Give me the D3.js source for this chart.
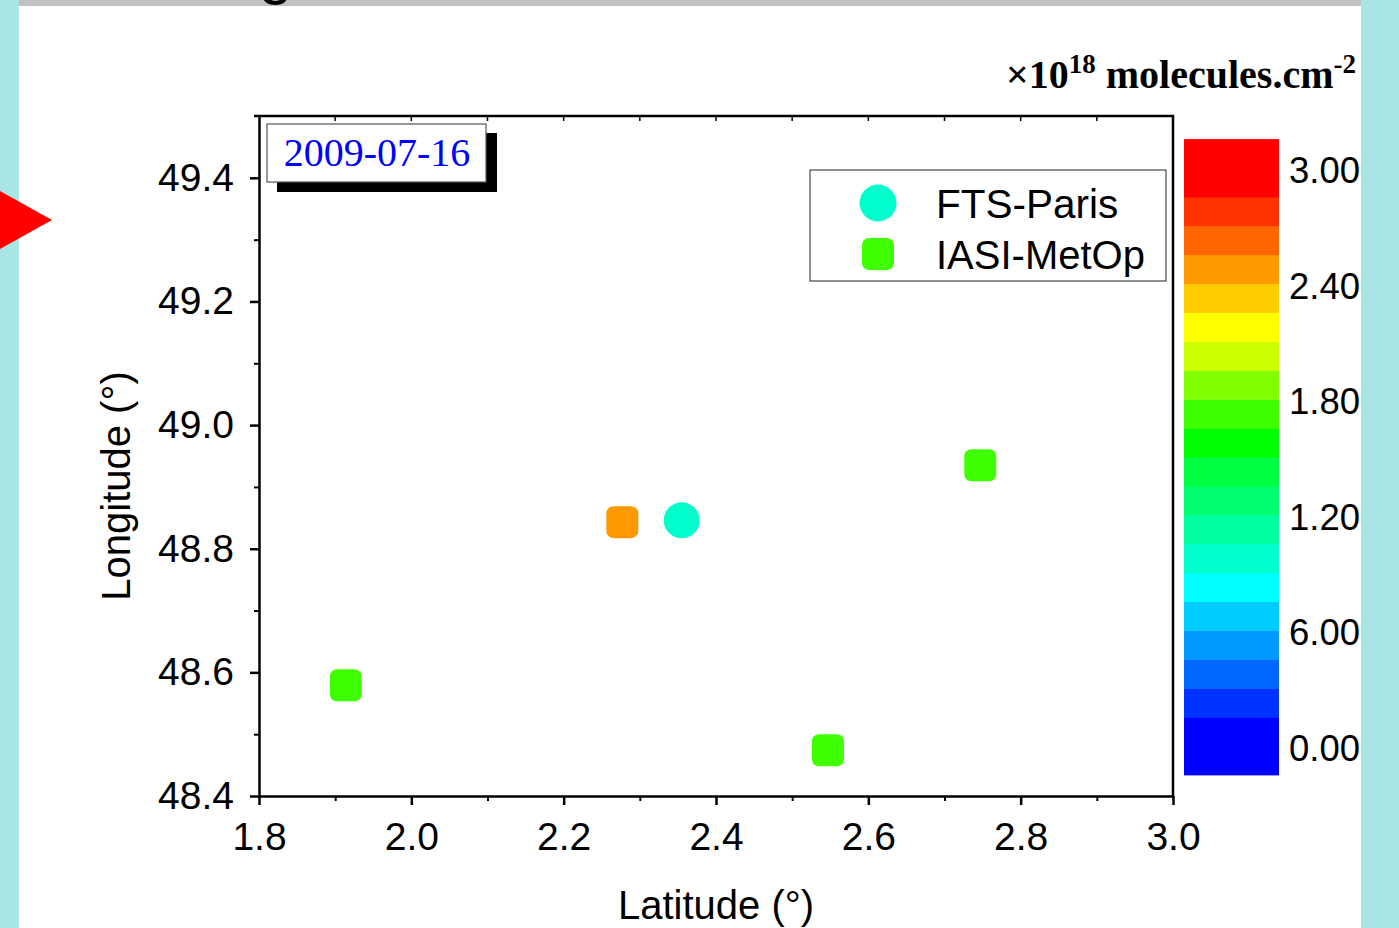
<!DOCTYPE html>
<html>
<head>
<meta charset="utf-8">
<script src="https://cdn.jsdelivr.net/npm/d3@7"></script>
<style>
  html, body { margin: 0; padding: 0; background: #fff; }
  svg { display: block; }
  text { font-family: "Liberation Sans", Arial, sans-serif; }
  text.serif { font-family: "Liberation Serif", "Times New Roman", serif; }
</style>
</head>
<body>
<div id="chart"></div>
<script>
// FTS-Paris station
const ftsLat = [2.355];
const ftsLon = [48.846];
const ftsValue = [0.98];

// IASI-MetOp pixels
const iasiLat = [2.277, 1.914, 2.547, 2.747];
const iasiLon = [48.843, 48.579, 48.474, 48.935];
const iasiValue = [2.47, 1.72, 1.70, 1.74];

const xTicks = [1.8, 2.0, 2.2, 2.4, 2.6, 2.8, 3.0];
const yTicks = [48.4, 48.6, 48.8, 49.0, 49.2, 49.4];

// colour bar levels (0.15 steps) and colours, bottom to top
const levelThresholds = d3.range(1, 20).map(i => +(i * 0.15).toFixed(2));
const levelColors = [
  "#0000FF", "#0033FF", "#0066FF", "#0099FF", "#00CCFF",
  "#00FFFF", "#00FFCC", "#00FFA0", "#00FF70", "#00FF40",
  "#00FF00", "#40FF00", "#80FF00", "#CCFF00", "#FFFF00",
  "#FFCC00", "#FF9900", "#FF6600", "#FF3300", "#FF0000"
];
const barTickValues = [0, 0.6, 1.2, 1.8, 2.4, 3.0];
const barTickLabels = ["0.00", "6.00", "1.20", "1.80", "2.40", "3.00"];

const W = 1399, H = 928;
const svg = d3.select("#chart").append("svg").attr("width", W).attr("height", H);

// page background strips
svg.append("rect").attr("x", 0).attr("y", 0).attr("width", 19).attr("height", H).attr("fill", "#A9E5E5");
svg.append("rect").attr("x", 1361).attr("y", 0).attr("width", W - 1361).attr("height", H).attr("fill", "#A9E5E5");
svg.append("rect").attr("x", 19).attr("y", 0).attr("width", 1342).attr("height", 6).attr("fill", "#C0C0C0");
// descender of a cut-off title above
svg.append("text").attr("x", 259).attr("y", -7).attr("font-size", 60).attr("fill", "#000").text("g");

const plot = { left: 259, right: 1173, top: 116, bottom: 796 };
const x = d3.scaleLinear().domain([1.8, 3.0]).range([plot.left, plot.right]);
const y = d3.scaleLinear().domain([48.4, 49.5]).range([plot.bottom, plot.top]);
const color = d3.scaleThreshold().domain(levelThresholds).range(levelColors);

// frame
svg.append("path")
  .attr("d", `M${plot.left - 5},${plot.top}H${plot.right}V${plot.bottom}`)
  .attr("fill", "none").attr("stroke", "#000").attr("stroke-width", 2.5);

// top inward ticks
svg.append("g").selectAll("line")
  .data(d3.range(1.9, 3.0, 0.1))
  .join("line")
  .attr("x1", d => x(d)).attr("x2", d => x(d))
  .attr("y1", plot.top).attr("y2", plot.top + 5)
  .attr("stroke", "#000").attr("stroke-width", 1.5);

// bottom axis
const gx = svg.append("g").attr("transform", `translate(0,${plot.bottom})`)
  .call(d3.axisBottom(x).tickValues(xTicks).tickFormat(d3.format(".1f")).tickSizeInner(9).tickSizeOuter(0).tickPadding(17));
gx.select(".domain").attr("stroke-width", 2.5);
gx.selectAll(".tick line").attr("stroke-width", 2.5);
gx.selectAll(".tick text").attr("font-size", 39).attr("fill", "#000");
svg.append("g").attr("transform", `translate(0,${plot.bottom})`)
  .call(d3.axisBottom(x).tickValues(d3.range(1.9, 3.0, 0.2)).tickSize(5).tickFormat(""))
  .call(g => g.select(".domain").remove())
  .selectAll(".tick line").attr("stroke-width", 2);

// left axis
const gy = svg.append("g").attr("transform", `translate(${plot.left},0)`)
  .call(d3.axisLeft(y).tickValues(yTicks).tickFormat(d3.format(".1f")).tickSizeInner(9).tickSizeOuter(0).tickPadding(16));
gy.select(".domain").attr("stroke-width", 2.5);
gy.selectAll(".tick line").attr("stroke-width", 2.5);
gy.selectAll(".tick text").attr("font-size", 39).attr("fill", "#000");
svg.append("g").attr("transform", `translate(${plot.left},0)`)
  .call(d3.axisLeft(y).tickValues(d3.range(48.5, 49.5, 0.2)).tickSize(5).tickFormat(""))
  .call(g => g.select(".domain").remove())
  .selectAll(".tick line").attr("stroke-width", 2);

// axis titles
svg.append("text").attr("x", (plot.left + plot.right) / 2).attr("y", 919)
  .attr("text-anchor", "middle").attr("font-size", 40).text("Latitude (°)");
svg.append("text").attr("transform", `translate(130,${(plot.top + plot.bottom) / 2 + 30}) rotate(-90)`)
  .attr("text-anchor", "middle").attr("font-size", 40).text("Longitude (°)");

// data points
const sq = 32;
svg.append("g").selectAll("rect")
  .data(iasiLat.map((d, i) => ({ lat: d, lon: iasiLon[i], v: iasiValue[i] })))
  .join("rect")
  .attr("x", d => x(d.lat) - sq / 2).attr("y", d => y(d.lon) - sq / 2)
  .attr("width", sq).attr("height", sq).attr("rx", 7)
  .attr("fill", d => color(d.v));
svg.append("g").selectAll("circle")
  .data(ftsLat.map((d, i) => ({ lat: d, lon: ftsLon[i], v: ftsValue[i] })))
  .join("circle")
  .attr("cx", d => x(d.lat)).attr("cy", d => y(d.lon)).attr("r", 18)
  .attr("fill", d => color(d.v));

// date label with shadow
svg.append("rect").attr("x", 277).attr("y", 133).attr("width", 220).attr("height", 59).attr("fill", "#000");
svg.append("rect").attr("x", 267).attr("y", 124).attr("width", 219).attr("height", 58)
  .attr("fill", "#fff").attr("stroke", "#555").attr("stroke-width", 1.2);
svg.append("text").attr("class", "serif").attr("x", 377).attr("y", 166).attr("text-anchor", "middle")
  .attr("font-size", 40).attr("fill", "#0000FF").text("2009-07-16");

// legend
svg.append("rect").attr("x", 810).attr("y", 170).attr("width", 356).attr("height", 111)
  .attr("fill", "#fff").attr("stroke", "#444").attr("stroke-width", 1.2);
svg.append("circle").attr("cx", 878).attr("cy", 203).attr("r", 18.5).attr("fill", color(ftsValue[0]));
svg.append("rect").attr("x", 862).attr("y", 238).attr("width", sq).attr("height", sq).attr("rx", 7)
  .attr("fill", color(iasiValue[1]));
svg.append("text").attr("x", 936).attr("y", 218).attr("font-size", 40.5).text("FTS-Paris");
svg.append("text").attr("x", 936).attr("y", 269).attr("font-size", 40).text("IASI-MetOp");

// colour bar
const bar = { x: 1184, w: 95 };
const by = d3.scaleLinear().domain([0, 3.0]).range([746, 168]);
const bandEdges = [-0.15].concat(levelThresholds, [3.15]);
svg.append("g").selectAll("rect")
  .data(levelColors.map((c, i) => ({ c, lo: bandEdges[i], hi: bandEdges[i + 1] })))
  .join("rect")
  .attr("x", bar.x).attr("width", bar.w)
  .attr("y", d => by(d.hi)).attr("height", d => by(d.lo) - by(d.hi) + 0.5)
  .attr("fill", d => d.c);
svg.append("g").selectAll("text")
  .data(barTickValues)
  .join("text")
  .attr("x", 1289).attr("y", d => by(d) + 15)
  .attr("font-size", 36.5).text((d, i) => barTickLabels[i]);

// colour bar units
const unit = svg.append("text").attr("class", "serif").attr("x", 1356).attr("y", 88).attr("text-anchor", "end")
  .attr("font-weight", "bold").attr("font-size", 40);
unit.append("tspan").text("×10");
unit.append("tspan").attr("font-size", 27).attr("dy", -15).text("18");
unit.append("tspan").attr("dy", 15).text(" molecules.cm");
unit.append("tspan").attr("font-size", 27).attr("dy", -15).text("-2");

// red marker on the left edge
svg.append("path").attr("d", "M0,191L52,220L0,249Z").attr("fill", "#FF0000");
</script>
</body>
</html>
